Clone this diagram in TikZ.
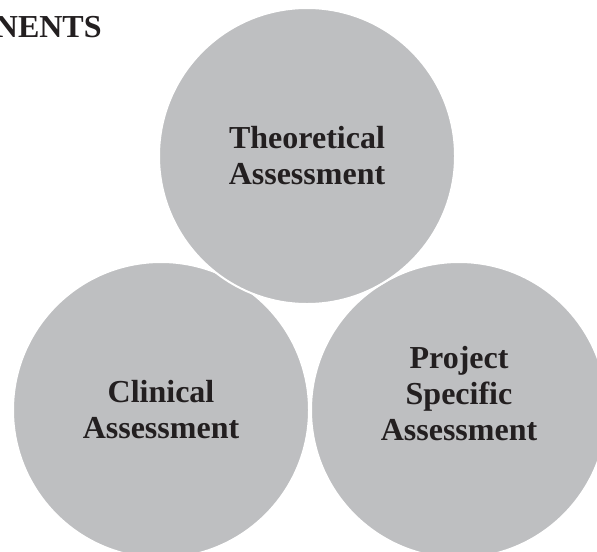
\documentclass[tikz,border=0pt]{standalone}
\usepackage{fontspec}
\setmainfont{Liberation Serif}
\usetikzlibrary{positioning}
\definecolor{circgray}{RGB}{190,191,193}
\definecolor{txtblack}{RGB}{35,31,32}

\begin{document}
\begin{tikzpicture}[x=0.5pt,y=-0.5pt,node distance=149pt,
        main text/.style={align=center,text=txtblack,font=\fontsize{16}{18}\selectfont\bfseries},
        main node/.style={circle,fill=circgray,draw=white,line width=1pt,minimum size=148pt,inner sep=0pt,main text}]

    \clip (0,0) rectangle (597,551);
    \node[main text,anchor=base east,inner sep=0pt] (title) at (102,38) {NENTS};

    \node[main node] (clin) at (161,410) {Clinical\\Assessment};
    \node[main node] (proj) [right of=clin] {};
    \node[main text] (projtext) at ([yshift=8pt]proj.center) {Project\\Specific\\Assessment};
    \node[main node] (theo) at (307,156) {Theoretical\\Assessment};

\end{tikzpicture}
\end{document}
